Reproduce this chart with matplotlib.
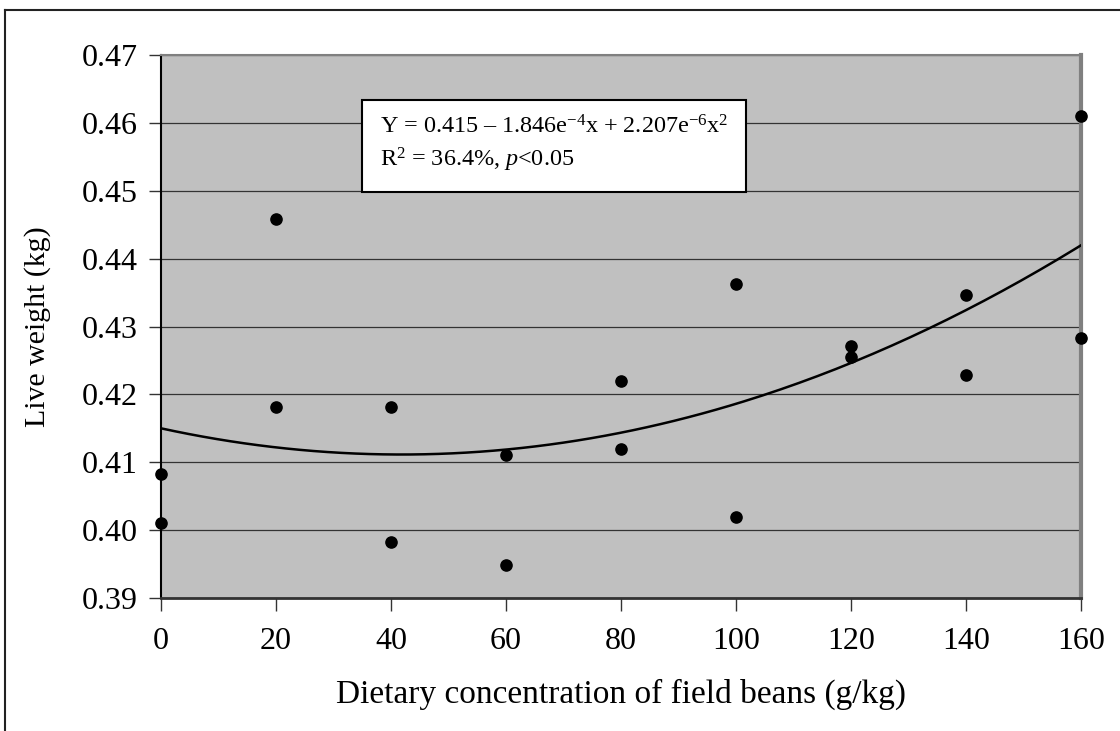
import numpy as np
import matplotlib
matplotlib.use('Agg')
import matplotlib.pyplot as plt
from matplotlib.lines import Line2D

# data
conc = [0, 0, 20, 20, 40, 40, 60, 60, 80, 80, 100, 100, 120, 120, 140, 140, 160, 160]
weight = [0.4083, 0.4010, 0.4458, 0.4182, 0.4182, 0.3982, 0.4110, 0.3948,
          0.4219, 0.4119, 0.4363, 0.4019, 0.4271, 0.4255, 0.4346, 0.4229,
          0.4610, 0.4283]

# fitted quadratic from the equation box
b0, b1, b2 = 0.415, -1.846e-4, 2.207e-6

x_ticks = [0, 20, 40, 60, 80, 100, 120, 140, 160]
y_ticks = [0.39, 0.40, 0.41, 0.42, 0.43, 0.44, 0.45, 0.46, 0.47]

plt.rcParams['font.family'] = ['Liberation Serif', 'DejaVu Serif']
plt.rcParams['mathtext.fontset'] = 'custom'
plt.rcParams['mathtext.rm'] = 'Liberation Serif'
plt.rcParams['mathtext.it'] = 'Liberation Serif:italic'

fig = plt.figure(figsize=(11.2, 7.31), dpi=100)
ax = fig.add_axes([161/1120, 1 - 598/731, (1081-161)/1120, (598-55)/731])
ax.set_facecolor('#c0c0c0')

# outer frame (top and left only visible)
fig.add_artist(Line2D([5/1120, 1.0], [1 - 10/731, 1 - 10/731], color='#222222', lw=1.5,
                      transform=fig.transFigure))
fig.add_artist(Line2D([5/1120, 5/1120], [0.0, 1 - 10/731], color='#222222', lw=1.5,
                      transform=fig.transFigure))

ax.set_xlim(0, 160)
ax.set_ylim(0.39, 0.47)
ax.set_xticks(x_ticks)
ax.set_yticks(y_ticks)
ax.set_yticklabels([f'{v:.2f}' for v in y_ticks])

ax.yaxis.grid(True, color='#333333', lw=0.9)
ax.set_axisbelow(True)

xs = np.linspace(0, 160, 200)
ax.plot(xs, b0 + b1 * xs + b2 * xs**2, color='black', lw=1.8, zorder=3)
ax.scatter(conc, weight, s=65, color='black', zorder=4, clip_on=False)

ax.spines['left'].set_color('black')
ax.spines['left'].set_linewidth(1.5)
ax.spines['bottom'].set_color('#333333')
ax.spines['bottom'].set_linewidth(2)
ax.spines['right'].set_color('#808080')
ax.spines['right'].set_linewidth(3)
ax.spines['top'].set_color('#808080')
ax.spines['top'].set_linewidth(1.5)

ax.tick_params(direction='out', length=9, width=1, color='#333333',
               labelsize=23, pad=8)
ax.tick_params(axis='x', pad=12)

ax.set_xlabel('Dietary concentration of field beans (g/kg)', fontsize=24, labelpad=16)
ax.set_ylabel('Live weight (kg)', fontsize=21.5, labelpad=22)

ax.text(0.238, 0.889,
        'Y = 0.415 – 1.846e$^{-4}$x + 2.207e$^{-6}$x$^{2}$\n'
        'R$^{2}$ = 36.4%, $\\it{p}$<0.05',
        transform=ax.transAxes, fontsize=17.4, va='top', ha='left', linespacing=1.35,
        bbox=dict(boxstyle='square,pad=0.75', facecolor='white', edgecolor='black', lw=1.5),
        zorder=5)

fig.savefig('out.png', dpi=100)
